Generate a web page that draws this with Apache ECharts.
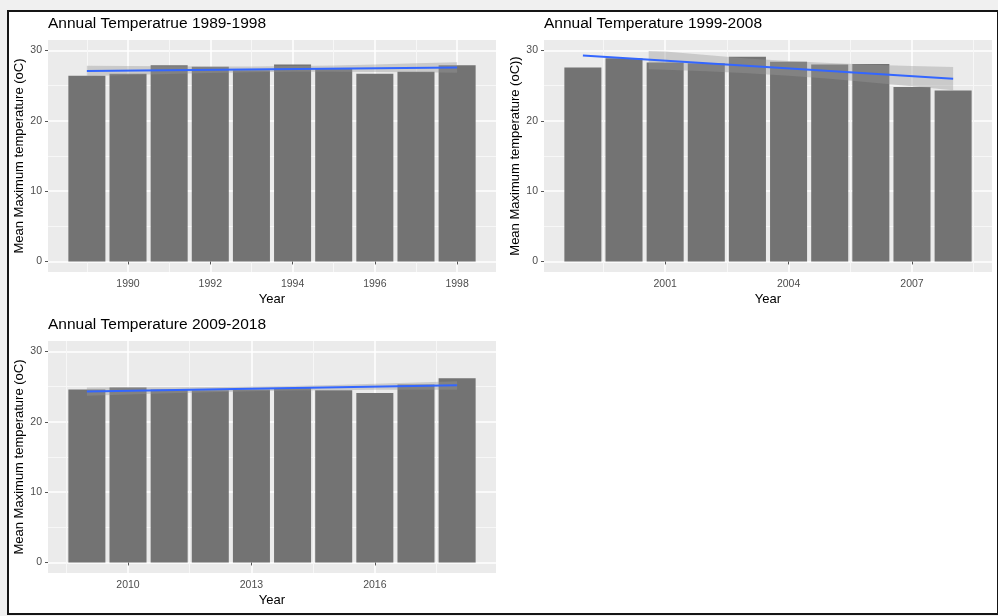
<!DOCTYPE html>
<html>
<head>
<meta charset="utf-8">
<script src="https://cdn.jsdelivr.net/npm/echarts@6/dist/echarts.min.js"></script>
<style>
html,body{margin:0;padding:0;background:#f0f0f0;}
#frame{position:absolute;left:7px;top:10px;width:988px;height:601px;border:2px solid #151515;background:#ffffff;}
#c{position:absolute;left:0;top:0;width:998px;height:616px;}
</style>
</head>
<body>
<div id="frame"></div>
<div id="c"></div>
<script>
// ---- Panel 1: 1989-1998 ----
const years1 = [1989, 1990, 1991, 1992, 1993, 1994, 1995, 1996, 1997, 1998];
const temp1 = [26.4, 26.7, 27.9, 27.7, 27.2, 28.0, 27.5, 26.7, 27.0, 27.9];
const fit1 = [27.1, 27.6];
const ribX1 = [1989, 1990, 1991, 1992, 1993, 1994, 1995, 1996, 1997, 1998];
const ribLo1 = [26.35, 26.52, 26.67, 26.81, 26.91, 26.97, 26.97, 26.95, 26.90, 26.85];
const ribHi1 = [27.85, 27.80, 27.75, 27.73, 27.73, 27.79, 27.89, 28.03, 28.18, 28.35];
const major1 = [1990, 1992, 1994, 1996, 1998];
const minor1 = [1989, 1991, 1993, 1995, 1997];

// ---- Panel 2: 1999-2008 ----
const years2 = [1999, 2000, 2001, 2002, 2003, 2004, 2005, 2006, 2007, 2008];
const temp2 = [27.6, 28.9, 28.3, 28.2, 29.1, 28.4, 28.0, 28.1, 24.8, 24.3];
const fit2 = [29.3, 26.0];
const ribX2 = [2000.6, 2001, 2002, 2003, 2004, 2005, 2006, 2007, 2008];
const ribLo2 = [27.35, 27.28, 27.05, 26.78, 26.42, 25.98, 25.47, 24.93, 24.35];
const ribHi2 = [29.95, 29.85, 29.35, 28.88, 28.52, 28.22, 27.99, 27.81, 27.65];
const major2 = [2001, 2004, 2007];
const minor2 = [1999.5, 2002.5, 2005.5, 2008.5];

// ---- Panel 3: 2009-2018 ----
const years3 = [2009, 2010, 2011, 2012, 2013, 2014, 2015, 2016, 2017, 2018];
const temp3 = [24.6, 24.9, 24.6, 24.5, 24.6, 24.8, 24.5, 24.1, 25.3, 26.2];
const fit3 = [24.3, 25.2];
const ribX3 = [2009, 2010, 2011, 2012, 2013, 2014, 2015, 2016, 2017, 2018];
const ribLo3 = [23.70, 23.89, 24.07, 24.22, 24.36, 24.45, 24.51, 24.55, 24.56, 24.57];
const ribHi3 = [24.90, 24.91, 24.93, 24.96, 25.02, 25.11, 25.25, 25.41, 25.58, 25.77];
const major3 = [2010, 2013, 2016];
const minor3 = [2008.5, 2011.5, 2014.5, 2017.5];

const yMajor = [0, 10, 20, 30];
const yMinor = [5, 15, 25];
const titles = ['Annual Temperatrue 1989-1998', 'Annual Temperature 1999-2008', 'Annual Temperature 2009-2018'];
const yNames = ['Mean Maximum temperature (oC)', 'Mean Maximum temperature (oC))', 'Mean Maximum temperature (oC)'];
const xName = 'Year';

const FONT = '"Liberation Sans", Arial, sans-serif';
const BAR = '#737373';
const BG = '#EBEBEB';

const panels = [
  {years: years1, temp: temp1, fit: fit1, rx: ribX1, rlo: ribLo1, rhi: ribHi1, major: major1, minor: minor1,
   grid: {left: 48, top: 40, width: 448, height: 232}, title: {left: 48, top: 16}},
  {years: years2, temp: temp2, fit: fit2, rx: ribX2, rlo: ribLo2, rhi: ribHi2, major: major2, minor: minor2,
   grid: {left: 544, top: 40, width: 448, height: 232}, title: {left: 544, top: 16}},
  {years: years3, temp: temp3, fit: fit3, rx: ribX3, rlo: ribLo3, rhi: ribHi3, major: major3, minor: minor3,
   grid: {left: 48, top: 341, width: 448, height: 232}, title: {left: 48, top: 317}}
];

const option = {
  animation: false,
  backgroundColor: 'transparent',
  title: [], grid: [], xAxis: [], yAxis: [], series: []
};

panels.forEach((p, i) => {
  const n = p.years.length;
  const xmin = p.years[0] - 0.945, xmax = p.years[n - 1] + 0.945;
  option.title.push({
    text: titles[i], left: p.title.left, top: p.title.top, padding: 0,
    textStyle: {fontFamily: FONT, fontSize: 15.5, fontWeight: 'normal', color: '#000'}
  });
  option.grid.push(Object.assign({show: true, backgroundColor: BG, borderWidth: 0}, p.grid));
  // main x axis
  option.xAxis.push({
    type: 'value', gridIndex: i, min: xmin, max: xmax, position: 'bottom',
    name: xName, nameLocation: 'middle', nameGap: 21,
    nameTextStyle: {fontFamily: FONT, fontSize: 13, color: '#000'},
    axisLine: {show: false},
    axisTick: {show: true, length: 3, lineStyle: {color: '#555'}, customValues: p.major},
    axisLabel: {show: true, customValues: p.major, margin: 7, color: '#4D4D4D',
      fontFamily: FONT, fontSize: 10.5, formatter: v => String(v)},
    splitLine: {show: true, lineStyle: {color: '#FFFFFF', width: 1.5}}
  });
  // minor x grid axis
  option.xAxis.push({
    type: 'value', gridIndex: i, min: xmin, max: xmax, position: 'top',
    axisLine: {show: false},
    axisTick: {show: false, customValues: p.minor},
    axisLabel: {show: false, customValues: p.minor},
    splitLine: {show: true, lineStyle: {color: '#F7F7F7', width: 1}}
  });
  option.yAxis.push({
    type: 'value', gridIndex: i, min: -1.5, max: 31.5, position: 'left',
    name: yNames[i], nameLocation: 'middle', nameGap: 21,
    nameTextStyle: {fontFamily: FONT, fontSize: 13, color: '#000'},
    axisLine: {show: false},
    axisTick: {show: true, length: 3, lineStyle: {color: '#555'}, customValues: yMajor},
    axisLabel: {show: true, customValues: yMajor, margin: 6, color: '#4D4D4D',
      fontFamily: FONT, fontSize: 10.5, formatter: v => String(v)},
    splitLine: {show: true, lineStyle: {color: '#FFFFFF', width: 1.5}}
  });
  option.yAxis.push({
    type: 'value', gridIndex: i, min: -1.5, max: 31.5, position: 'right',
    axisLine: {show: false},
    axisTick: {show: false, customValues: yMinor},
    axisLabel: {show: false, customValues: yMinor},
    splitLine: {show: true, lineStyle: {color: '#F7F7F7', width: 1}}
  });
  const xi = i * 2, yi = i * 2;
  option.series.push({
    type: 'bar', xAxisIndex: xi, yAxisIndex: yi, barWidth: '90%',
    itemStyle: {color: BAR}, z: 2,
    data: p.years.map((y, k) => [y, p.temp[k]])
  });
  const rx = p.rx, rlo = p.rlo, rhi = p.rhi;
  option.series.push({
    type: 'custom', xAxisIndex: xi, yAxisIndex: yi, clip: true, z: 3,
    data: rx.map((x, k) => [x, rlo[k], rhi[k]]),
    encode: {x: 0, y: [1, 2]},
    renderItem: (params, api) => {
      if (params.dataIndex !== 0) return null;
      const pts = [];
      for (let k = 0; k < rx.length; k++) pts.push(api.coord([rx[k], rhi[k]]));
      for (let k = rx.length - 1; k >= 0; k--) pts.push(api.coord([rx[k], rlo[k]]));
      return {type: 'polygon', shape: {points: pts}, style: {fill: 'rgba(153,153,153,0.4)'}};
    }
  });
  option.series.push({
    type: 'line', xAxisIndex: xi, yAxisIndex: yi, z: 4, symbol: 'none',
    lineStyle: {color: '#3366FF', width: 2},
    data: [[p.years[0], p.fit[0]], [p.years[n - 1], p.fit[1]]]
  });
});

const chart = echarts.init(document.getElementById('c'));
chart.setOption(option);
</script>
</body>
</html>
